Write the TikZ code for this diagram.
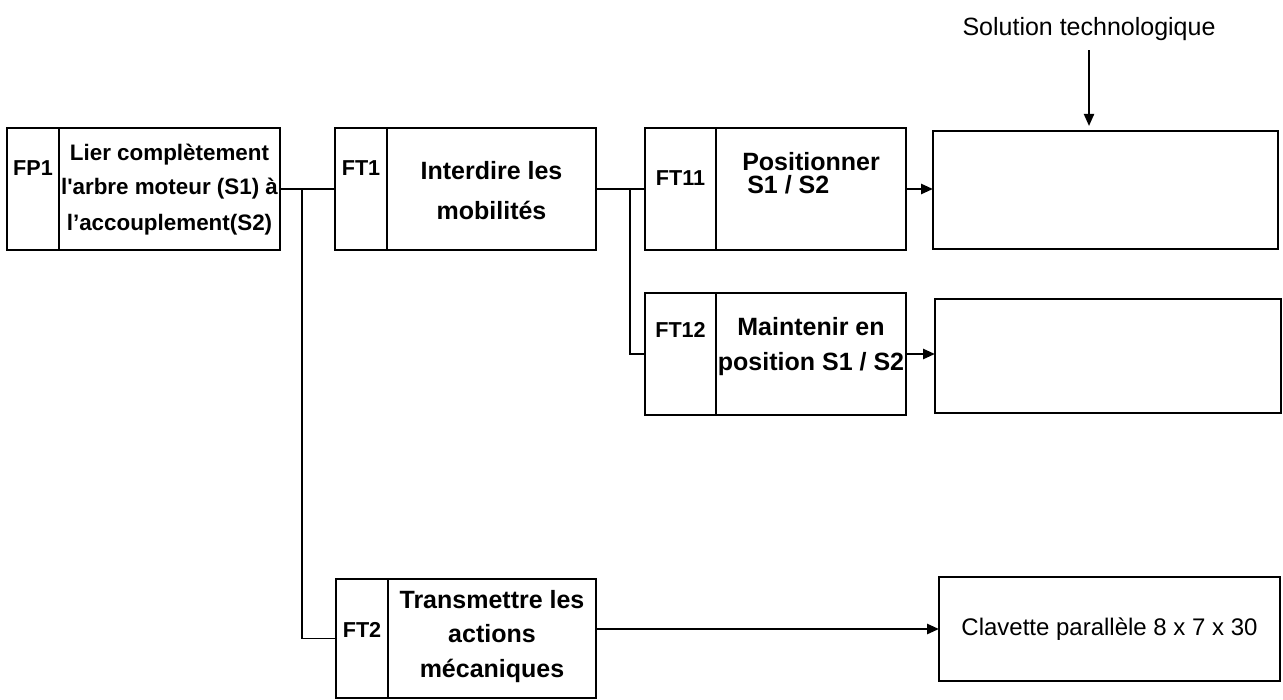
\documentclass[tikz,border=0pt]{standalone}
\usepackage{fontspec}
\setmainfont{Liberation Sans}
\usetikzlibrary{arrows.meta}
\tikzset{
  cell/.style={draw, line width=1pt, anchor=north west, inner sep=0pt, outer sep=0pt, minimum height=61pt},
  codecell/.style={cell, minimum width=#1, font=\bfseries\fontsize{10.8}{13}\selectfont},
  funccell/.style={cell, minimum width=#1, align=center},
  solbox/.style={draw, line width=1pt, anchor=north west, inner sep=0pt, outer sep=0pt},
  link/.style={line width=0.7pt},
  flow/.style={line width=1.3pt, -{Triangle[length=6pt,width=5pt]}}
}
\begin{document}
\begin{tikzpicture}[x=0.5pt,y=-0.5pt]
            \useasboundingbox (0,0) rectangle (1283,700);
            % fonction principale
            \node[codecell=26pt, text height=23.75pt, text depth=37.25pt] (fp1code) at (7,128) {FP1};
            \node[funccell=110.5pt, text height=51pt, text depth=10pt, font=\bfseries\fontsize{11.2}{17.5}\selectfont] (fp1text) at (fp1code.north east) {Lier complètement\\l\textquotesingle arbre moteur (S1) à\\l’accouplement(S2)};
            % fonctions techniques
            \node[codecell=26pt, text height=24pt, text depth=37pt] (ft1code) at (335,128) {FT1};
            \node[funccell=104.5pt, text height=46pt, text depth=15pt, font=\bfseries\fontsize{12.5}{20}\selectfont] (ft1text) at (ft1code.north east) {Interdire les\\mobilités};
            \node[codecell=35.5pt, text height=28.75pt, text depth=32.25pt] (ft11code) at (645,128) {FT11};
            \node[funccell=95pt, align=left, text height=32.5pt, text depth=28.5pt, font=\bfseries\fontsize{12.5}{11.3}\selectfont] (ft11text) at (ft11code.north east) {Positionner\\\hspace*{2.5pt}S1 / S2};
            \node[codecell=35.5pt, text height=22.25pt, text depth=38.75pt] (ft12code) at (645,293) {FT12};
            \node[funccell=95pt, text height=38.5pt, text depth=22.5pt, font=\bfseries\fontsize{12.5}{17.5}\selectfont] (ft12text) at (ft12code.north east) {Maintenir en\\position S1 / S2};
            \node[codecell=26pt, minimum height=59.5pt, text height=29.25pt, text depth=30.25pt] (ft2code) at (336,579) {FT2};
            \node[funccell=104pt, minimum height=59.5pt, text height=49pt, text depth=10.5pt, font=\bfseries\fontsize{12.5}{17.25}\selectfont] (ft2text) at (ft2code.north east) {Transmettre les\\actions\\mécaniques};
            % solutions
            \node[solbox, minimum width=172.5pt, minimum height=59pt] (sol1) at (933,131) {};
            \node[solbox, minimum width=173pt, minimum height=57pt] (sol2) at (935,299) {};
            \node[solbox, minimum width=170.5pt, minimum height=52pt, font=\fontsize{12}{14}\selectfont] (sol3) at (939,577) {Clavette parallèle 8 x 7 x 30};
            \node[inner sep=0pt, font=\fontsize{12.5}{15}\selectfont] (soltitle) at (1089,29) {Solution technologique};
            % liaisons
            \coordinate (fork1) at (302,189);
            \coordinate (fork2) at (630,189);
            \draw[link] (fp1text.east) -- (ft1code.west);
            \draw[link] (fork1) |- (ft2code.west);
            \draw[link] (ft1text.east) -- (ft11code.west);
            \draw[link] (fork2) |- (ft12code.west);
            \draw[flow] (ft11text.east) -- (ft11text.east -| sol1.west);
            \draw[flow] (ft12text.east) -- (ft12text.east -| sol2.west);
            \draw[flow] (ft2text.east |- sol3.west) -- (sol3.west);
            \draw[flow, line width=1pt, shorten <=4.5pt, shorten >=2.5pt] (soltitle.south) -- (soltitle.south |- sol1.north);
        \end{tikzpicture}
\end{document}
